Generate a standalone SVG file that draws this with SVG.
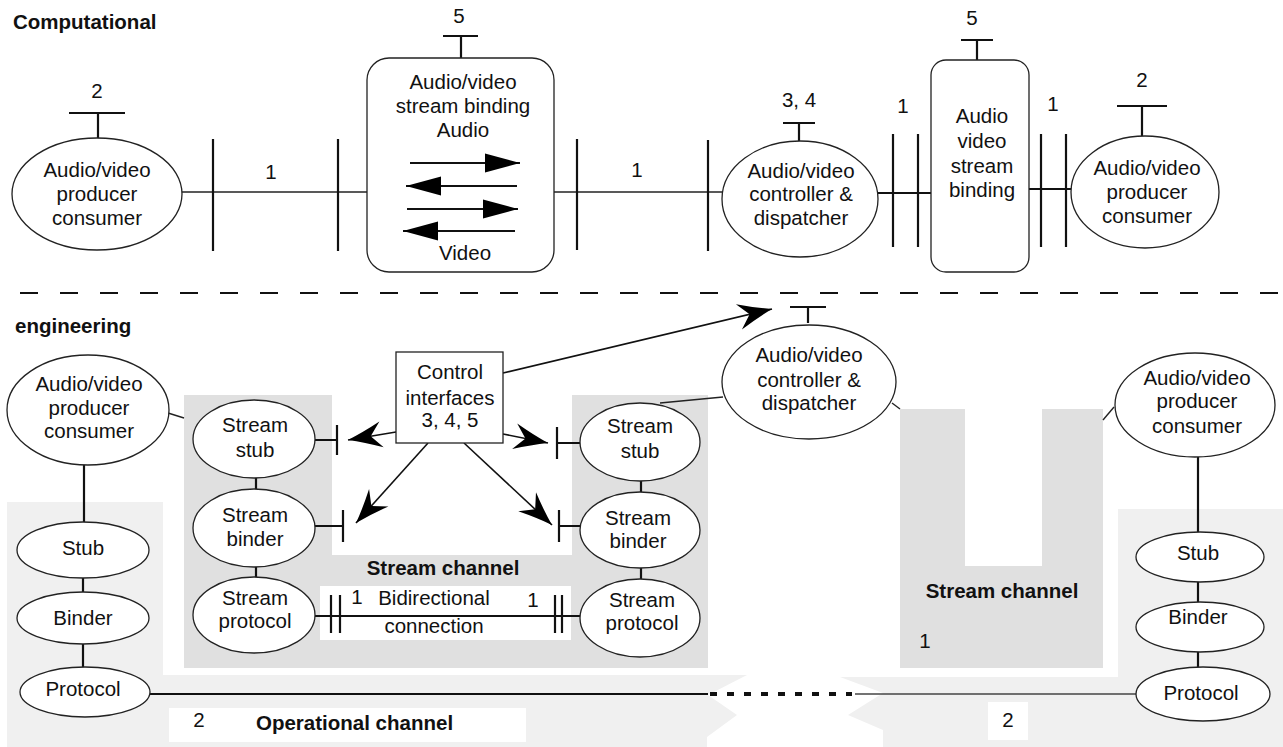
<svg xmlns="http://www.w3.org/2000/svg" width="1283" height="747" viewBox="0 0 1283 747">
<defs>
<style>
text{font-family:"Liberation Sans",Arial,Helvetica,sans-serif;font-size:20.5px;fill:#111;text-anchor:middle}
.b{font-weight:bold}
.l{text-anchor:start}
.sh{fill:#fff;stroke:#222;stroke-width:1.3}
.ln{stroke:#222;stroke-width:1.4;fill:none}
.th{stroke:#111;stroke-width:2.2;fill:none}
.ar{stroke:#111;stroke-width:1.6;fill:none;marker-end:url(#stealth)}
.ta{stroke:#111;stroke-width:2;fill:none;marker-end:url(#tri)}
</style>
<marker id="stealth" markerUnits="userSpaceOnUse" viewBox="-36 -15 40 30" markerWidth="40" markerHeight="30" refX="0" refY="0" orient="auto">
<path d="M0,0 Q-16,-5 -34,-13 L-23,0 L-34,13 Q-16,5 0,0 Z" fill="#000"/>
</marker>
<marker id="tri" markerUnits="userSpaceOnUse" viewBox="-36 -11 38 22" markerWidth="38" markerHeight="22" refX="0" refY="0" orient="auto">
<path d="M0,0 L-35,-9.5 L-35,9.5 Z" fill="#000"/>
</marker>
</defs>
<rect width="1283" height="747" fill="#fff"/>

<g id="backgrounds">
<polygon points="7,502 163,502 163,675 747,675 708,695 737,715 707,737 707,747 7,747" fill="#f0f0f0"/>
<polygon points="840,677 1118,677 1118,509 1283,509 1283,747 883,747 883,730 848,715 883,693" fill="#f0f0f0"/>
<path d="M184,395 H332 V555 H572 V395 H708 V668 H184 Z" fill="#e0e0e0"/>
<path d="M900,409 H965 V566 H1042 V409 H1103 V668 H900 Z" fill="#e0e0e0"/>
<rect x="320" y="586" width="251" height="54" fill="#fff"/>
<rect x="169" y="708" width="357" height="34" fill="#fff"/>
<rect x="988" y="702" width="40" height="38" fill="#fff"/>
</g>

<g id="labels">
<text class="b l" x="13" y="29">Computational</text>
<text class="b l" x="15" y="333">engineering</text>
<text class="b" x="443" y="575">Stream channel</text>
<text class="b" x="1002" y="598">Stream channel</text>
<text x="925" y="648">1</text>
<text x="199" y="727">2</text>
<text class="b l" x="256" y="730">Operational channel</text>
<text x="1008" y="727">2</text>
</g>

<g id="connectors">
<line x1="20" y1="293" x2="1283" y2="293" stroke="#111" stroke-width="2" stroke-dasharray="18 22"/>
<line class="ln" x1="182" y1="192" x2="367" y2="192"/>
<line class="th" x1="213" y1="139" x2="213" y2="251"/>
<line class="th" x1="338" y1="139" x2="338" y2="251"/>
<text x="271" y="179">1</text>
<line class="ln" x1="554" y1="192" x2="722" y2="192"/>
<line class="th" x1="577" y1="139" x2="577" y2="250"/>
<line class="th" x1="708" y1="140" x2="708" y2="251"/>
<text x="637" y="177">1</text>
<line class="th" x1="878" y1="193" x2="931" y2="193"/>
<line class="th" x1="893" y1="134" x2="893" y2="247"/>
<line class="th" x1="918" y1="134" x2="918" y2="247"/>
<text x="903" y="113">1</text>
<line class="th" x1="1029" y1="189" x2="1071" y2="189"/>
<line class="th" x1="1041" y1="134" x2="1041" y2="247"/>
<line class="th" x1="1066" y1="134" x2="1066" y2="247"/>
<text x="1053" y="111">1</text>
<path class="th" d="M98,138 V113 M69,113 H125"/>
<text x="97" y="98">2</text>
<path class="th" d="M461,58 V36 M443,36 H478"/>
<text x="459" y="23">5</text>
<path class="th" d="M799,141 V123 M783,123 H815"/>
<text x="799" y="107">3, 4</text>
<path class="th" d="M977,60 V40 M961,40 H993"/>
<text x="972" y="25">5</text>
<path class="th" d="M1142,136 V106 M1117,106 H1167"/>
<text x="1142" y="87">2</text>
<line class="th" x1="84" y1="465" x2="84" y2="522"/>
<line class="th" x1="83" y1="577" x2="83" y2="592"/>
<line class="th" x1="83" y1="644" x2="83" y2="667"/>
<line class="th" x1="256" y1="478" x2="256" y2="489"/>
<line class="th" x1="256" y1="567" x2="256" y2="577"/>
<line class="th" x1="641" y1="481" x2="641" y2="492"/>
<line class="th" x1="641" y1="568" x2="641" y2="579"/>
<line class="th" x1="1198" y1="457" x2="1198" y2="532"/>
<line class="th" x1="1198" y1="582" x2="1198" y2="602"/>
<line class="th" x1="1198" y1="652" x2="1198" y2="667"/>
<line class="ln" x1="168" y1="413" x2="184" y2="418"/>
<line class="ln" x1="660" y1="403" x2="723" y2="397"/>
<line class="ln" x1="892" y1="403" x2="900" y2="409"/>
<line class="ln" x1="1114" y1="407" x2="1103" y2="420"/>
<path class="th" d="M315,440 H337 M337,425 V455"/>
<path class="th" d="M315,526 H343 M343,510 V542"/>
<path class="th" d="M580,443 H557 M557,427 V459"/>
<path class="th" d="M580,526 H559 M559,510 V542"/>
<path class="th" d="M808,323 V307 M790,307 H826"/>
<line class="th" x1="315" y1="616" x2="580" y2="616"/>
<path class="th" d="M331,595 V633 M340,595 V633 M555,595 V633 M562,595 V633"/>
<text x="357" y="604">1</text>
<text x="434" y="605">Bidirectional</text>
<text x="533" y="607">1</text>
<text x="434" y="633">connection</text>
<line class="ar" x1="503" y1="373" x2="772" y2="309"/>
<line class="ar" x1="396" y1="432" x2="348" y2="440"/>
<line class="ar" x1="428" y1="443" x2="356" y2="523"/>
<line class="ar" x1="503" y1="434" x2="548" y2="443"/>
<line class="ar" x1="464" y1="443" x2="552" y2="525"/>
<line x1="150" y1="694" x2="708" y2="694" stroke="#111" stroke-width="2"/>
<line x1="710" y1="694" x2="852" y2="694" stroke="#111" stroke-width="4" stroke-dasharray="7 10"/>
<line x1="855" y1="694" x2="1136" y2="694" stroke="#444" stroke-width="1.6"/>
</g>

<g id="av-producer-consumer-top-left">
<ellipse class="sh" cx="97" cy="194" rx="85" ry="56"/>
<text x="97" y="177">Audio/video</text><text x="97" y="201">producer</text><text x="97" y="225">consumer</text>
</g>
<g id="av-stream-binding-top">
<rect class="sh" x="367" y="58" width="187" height="214" rx="22"/>
<text x="463" y="89">Audio/video</text><text x="463" y="113">stream binding</text><text x="463" y="137">Audio</text>
<line class="ta" x1="410" y1="163" x2="520" y2="163"/>
<line class="ta" x1="517" y1="186" x2="406" y2="186"/>
<line class="ta" x1="407" y1="209" x2="518" y2="209"/>
<line class="ta" x1="515" y1="231" x2="403" y2="231"/>
<text x="465" y="260">Video</text>
</g>
<g id="av-controller-top">
<ellipse class="sh" cx="800" cy="199" rx="78" ry="58"/>
<text x="801" y="178">Audio/video</text><text x="801" y="201">controller &amp;</text><text x="801" y="225">dispatcher</text>
</g>
<g id="av-stream-binding-top-right">
<rect class="sh" x="931" y="60" width="98" height="212" rx="15"/>
<text x="982" y="123">Audio</text><text x="982" y="148">video</text><text x="982" y="173">stream</text><text x="982" y="197">binding</text>
</g>
<g id="av-producer-consumer-top-right">
<ellipse class="sh" cx="1145" cy="192" rx="74" ry="56"/>
<text x="1147" y="175">Audio/video</text><text x="1147" y="199">producer</text><text x="1147" y="223">consumer</text>
</g>

<g id="eng-av-producer-left">
<ellipse class="sh" cx="88" cy="410" rx="81" ry="55"/>
<text x="89" y="391">Audio/video</text><text x="89" y="415">producer</text><text x="89" y="438">consumer</text>
</g>
<g id="eng-stub-left"><ellipse class="sh" cx="83" cy="550" rx="66" ry="28"/><text x="83" y="555">Stub</text></g>
<g id="eng-binder-left"><ellipse class="sh" cx="83" cy="618" rx="66" ry="26"/><text x="83" y="625">Binder</text></g>
<g id="eng-protocol-left"><ellipse class="sh" cx="85" cy="692" rx="65" ry="25"/><text x="83" y="696">Protocol</text></g>

<g id="stream-stub-left"><ellipse class="sh" cx="254" cy="439" rx="61" ry="39"/><text x="255" y="432">Stream</text><text x="255" y="457">stub</text></g>
<g id="stream-binder-left"><ellipse class="sh" cx="254" cy="528" rx="61" ry="39"/><text x="255" y="522">Stream</text><text x="255" y="546">binder</text></g>
<g id="stream-protocol-left"><ellipse class="sh" cx="254" cy="615" rx="61" ry="38"/><text x="255" y="605">Stream</text><text x="255" y="628">protocol</text></g>

<g id="control-interfaces">
<rect class="sh" x="396" y="352" width="107" height="91"/>
<text x="450" y="379">Control</text><text x="450" y="405">interfaces</text><text x="450" y="427">3, 4, 5</text>
</g>

<g id="stream-stub-right"><ellipse class="sh" cx="640" cy="442" rx="60" ry="39"/><text x="640" y="433">Stream</text><text x="640" y="458">stub</text></g>
<g id="stream-binder-right"><ellipse class="sh" cx="640" cy="530" rx="60" ry="38"/><text x="638" y="525">Stream</text><text x="638" y="548">binder</text></g>
<g id="stream-protocol-right"><ellipse class="sh" cx="640" cy="618" rx="60" ry="39"/><text x="642" y="607">Stream</text><text x="642" y="630">protocol</text></g>

<g id="eng-av-controller">
<ellipse class="sh" cx="809" cy="382" rx="87" ry="57"/>
<text x="809" y="362">Audio/video</text><text x="809" y="387">controller &amp;</text><text x="809" y="410">dispatcher</text>
</g>

<g id="eng-av-producer-right">
<ellipse class="sh" cx="1195" cy="405" rx="80" ry="52"/>
<text x="1197" y="385">Audio/video</text><text x="1197" y="408">producer</text><text x="1197" y="433">consumer</text>
</g>
<g id="eng-stub-right"><ellipse class="sh" cx="1200" cy="557" rx="64" ry="25"/><text x="1198" y="560">Stub</text></g>
<g id="eng-binder-right"><ellipse class="sh" cx="1200" cy="627" rx="64" ry="25"/><text x="1198" y="624">Binder</text></g>
<g id="eng-protocol-right"><ellipse class="sh" cx="1203" cy="694" rx="67" ry="27"/><text x="1201" y="700">Protocol</text></g>
</svg>
